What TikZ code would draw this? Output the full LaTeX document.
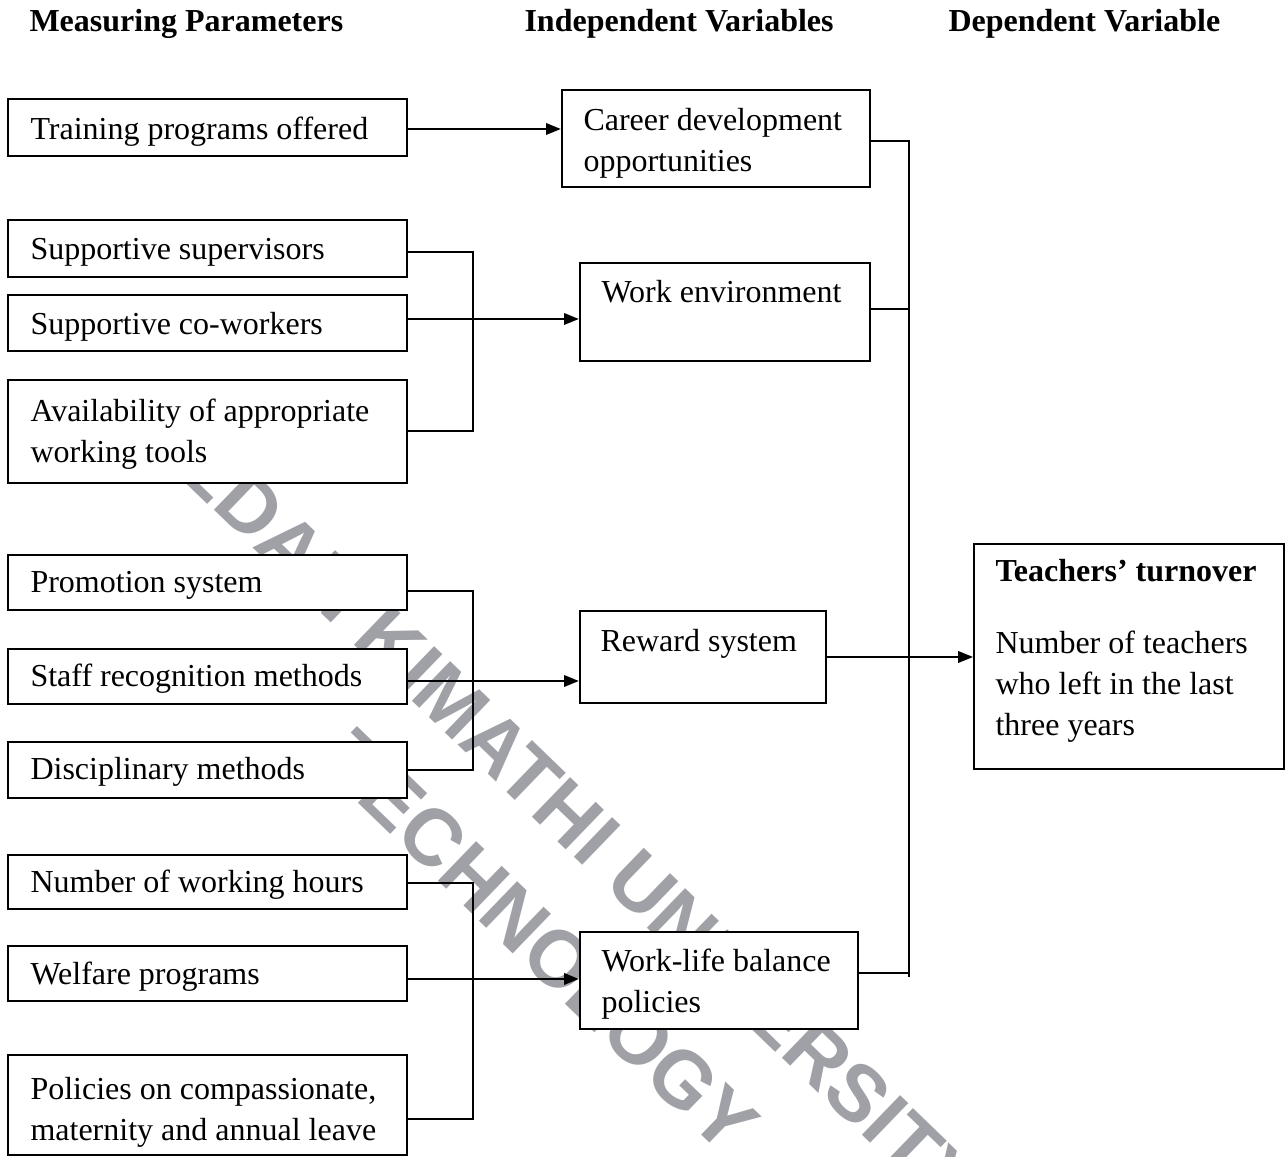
\documentclass[tikz,border=0pt]{standalone}
\usepackage{fontspec}
\setmainfont{Liberation Serif}
\newfontfamily\wmfont{Liberation Sans}
\usetikzlibrary{arrows.meta,fit}
\definecolor{wmgray}{RGB}{160,161,166}
\tikzset{
  box/.style={draw, line width=0.75pt, fill=white, inner sep=0pt},
  txt/.style={inner sep=0pt, font=\fontsize{12}{15.4}\selectfont, anchor=base west},
  mtxt/.style={txt, align=left},
  hdr/.style={inner sep=0pt, font=\fontsize{12}{14}\selectfont\bfseries, anchor=base west},
  conn/.style={line width=0.5pt},
  bus/.style={line width=0.7pt},
  arr/.style={line width=1pt, -{Triangle[length=5.6pt,width=4.2pt]}},
  arrthin/.style={line width=0.5pt, -{Triangle[length=5.6pt,width=4.4pt]}},
  wm/.style={text=wmgray, font=\wmfont\bfseries\fontsize{30}{36}\selectfont, rotate=-44, anchor=base, inner sep=0pt},
}
\newcommand\mybox[5]{%
  \coordinate (#1-a) at (#2,#3);
  \coordinate (#1-b) at (#4,#5);
  \node[box, fit=(#1-a)(#1-b)] (#1) {};}
\begin{document}
\begin{tikzpicture}[x=0.375pt,y=-0.375pt]
\fill[white] (0,0) rectangle (1288,1157);
\useasboundingbox (0,0) rectangle (1288,1157);
% watermark
\node[wm] (wm1) at (587,870) {DEDAN KIMATHI UNIVERSITY OF};
\node[wm] (wm2) at (522,962) {TECHNOLOGY};
% boxes
\mybox{train}{8}{99}{407}{156}
\mybox{career}{562}{90}{870}{187}
\mybox{sup}{8}{220}{407}{277}
\mybox{cow}{8}{295}{407}{351}
\mybox{avail}{8}{380}{407}{483}
\mybox{work}{580}{263}{870}{361}
\mybox{promo}{8}{555}{407}{610}
\mybox{staff}{8}{649}{407}{704}
\mybox{disc}{8}{742}{407}{798}
\mybox{reward}{580}{611}{826}{703}
\mybox{hours}{8}{855}{407}{909}
\mybox{welf}{8}{946}{407}{1001}
\mybox{pol}{8}{1055}{407}{1155}
\mybox{wlb}{580}{932}{858}{1029}
\mybox{teach}{974}{544}{1284}{769}
% connectors
\draw[arr] (train.east |- 0,129) -- (career.west |- 0,129);
\coordinate (ja) at (473,319);
\draw[conn] (sup.east |- 0,252) -| (ja) |- (avail.east |- 0,431);
\draw[arr] (cow.east |- ja) -- (work.west |- ja);
\coordinate (jb) at (473,681);
\draw[conn] (promo.east |- 0,591) -| (jb) |- (disc.east |- 0,770);
\draw[arr] (staff.east |- jb) -- (reward.west |- jb);
\coordinate (jc) at (473,979);
\draw[conn] (hours.east |- 0,883) -| (jc) |- (pol.east |- 0,1119);
\draw[arr] (welf.east |- jc) -- (wlb.west |- jc);
\coordinate (bt) at (909,141);
\coordinate (bw) at (909,309);
\coordinate (bb) at (909,977);
\coordinate (bl) at (909,973);
\draw[bus] (career.east |- bt) -- (bt) -- (bb);
\draw[conn] (work.east |- bw) -- (bw);
\draw[conn] (wlb.east |- bl) -- (bl);
\draw[arrthin] (reward.east |- 0,657) -- (teach.west |- 0,657);
% headers
\node[hdr] (h1) at (29,32) {Measuring Parameters};
\node[hdr] (h2) at (524,32) {Independent Variables};
\node[hdr] (h3) at (948,32) {Dependent Variable};
% texts (multi-line nodes are anchored at the baseline of their last line)
\node[txt] (t-train) at (30,140) {Training programs offered};
\node[mtxt] (t-career) at (583,172) {Career development\\opportunities};
\node[txt] (t-sup) at (30,260) {Supportive supervisors};
\node[txt] (t-cow) at (30,335) {Supportive co-workers};
\node[mtxt] (t-avail) at (30,463) {Availability of appropriate\\working tools};
\node[txt] (t-work) at (601,303) {Work environment};
\node[txt] (t-promo) at (30,593) {Promotion system};
\node[txt] (t-staff) at (30,687) {Staff recognition methods};
\node[txt] (t-disc) at (30,780) {Disciplinary methods};
\node[txt] (t-reward) at (600,652) {Reward system};
\node[txt] (t-hours) at (30,893) {Number of working hours};
\node[txt] (t-welf) at (30,985) {Welfare programs};
\node[mtxt] (t-pol) at (30,1141) {Policies on compassionate,\\maternity and annual leave};
\node[mtxt] (t-wlb) at (601,1013) {Work-life balance\\policies};
\node[hdr] (t-tt) at (995,582) {Teachers’ turnover};
\node[mtxt] (t-tb) at (995,736) {Number of teachers\\who left in the last\\three years};
\end{tikzpicture}
\end{document}
